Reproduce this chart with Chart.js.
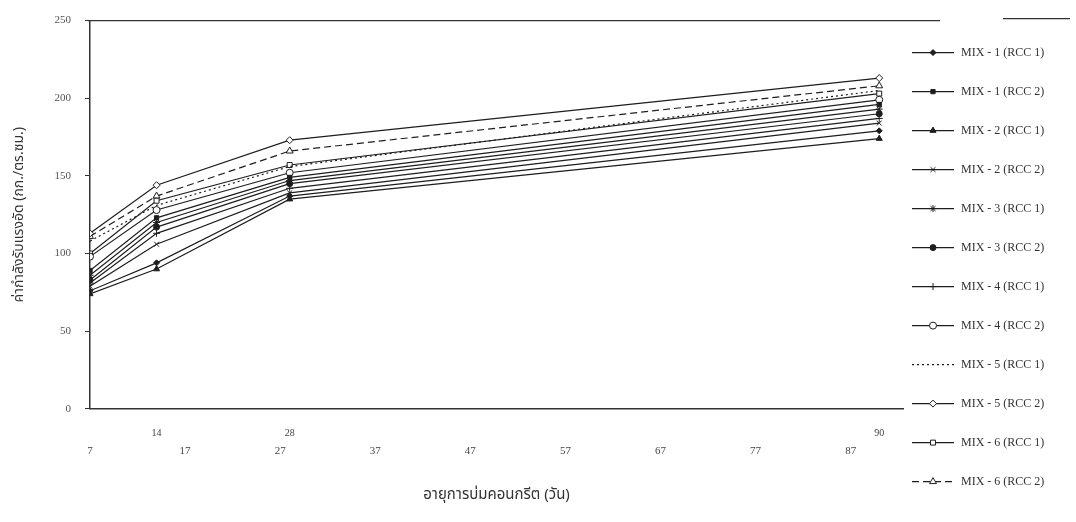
<!DOCTYPE html>
<html>
<head>
<meta charset="utf-8">
<script src="https://cdn.jsdelivr.net/npm/chart.js@4"></script>
<style>
  html, body { margin: 0; padding: 0; background: #fff; }
  #wrap { width: 1076px; height: 522px; }
</style>
</head>
<body>
<div id="wrap"><canvas id="strengthChart"></canvas></div>
<script>
// ages (days) and compressive strength per mix
var days = [7, 14, 28, 90];
var dayLabels = [14, 28, 90];
var xTicks = [7, 17, 27, 37, 47, 57, 67, 77, 87];
var yTicks = [0, 50, 100, 150, 200, 250];

var seriesNames = [
    'MIX - 1 (RCC 1)', 'MIX - 1 (RCC 2)', 'MIX - 2 (RCC 1)', 'MIX - 2 (RCC 2)',
    'MIX - 3 (RCC 1)', 'MIX - 3 (RCC 2)', 'MIX - 4 (RCC 1)', 'MIX - 4 (RCC 2)',
    'MIX - 5 (RCC 1)', 'MIX - 5 (RCC 2)', 'MIX - 6 (RCC 1)', 'MIX - 6 (RCC 2)'
];
var mix1Rcc1 = [76, 94, 137, 179];
var mix1Rcc2 = [89, 123, 149, 196];
var mix2Rcc1 = [74, 90, 135, 174];
var mix2Rcc2 = [79, 106, 139, 184];
var mix3Rcc1 = [86, 120, 147, 193];
var mix3Rcc2 = [83, 117, 145, 190];
var mix4Rcc1 = [81, 113, 142, 187];
var mix4Rcc2 = [98, 128, 152, 199];
var mix5Rcc1 = [108, 131, 156, 205];
var mix5Rcc2 = [113, 144, 173, 213];
var mix6Rcc1 = [100, 134, 157, 203];
var mix6Rcc2 = [111, 137, 166, 208];

var allValues = [mix1Rcc1, mix1Rcc2, mix2Rcc1, mix2Rcc2, mix3Rcc1, mix3Rcc2,
                 mix4Rcc1, mix4Rcc2, mix5Rcc1, mix5Rcc2, mix6Rcc1, mix6Rcc2];

var ink = '#1e1e1e';
// marker style per series: [pointStyle, radius, open?, dash]
var looks = [
    ['rectRot', 3, false, []],
    ['rect', 3, false, []],
    ['triangle', 3.5, false, []],
    ['crossRot', 3.5, false, []],
    ['star', 3.5, false, []],
    ['circle', 3, false, []],
    ['cross', 3.5, false, []],
    ['circle', 3.5, true, []],
    ['circle', 0, false, [2, 3]],
    ['rectRot', 3.5, true, []],
    ['rect', 3.5, true, []],
    ['triangle', 4, true, [7, 4]]
];

var datasets = seriesNames.map(function(name, i) {
    var look = looks[i];
    return {
        label: name,
        data: days.map(function(d, j) { return { x: d, y: allValues[i][j] }; }),
        borderColor: ink,
        backgroundColor: look[2] ? '#ffffff' : ink,
        borderWidth: 1.2,
        borderDash: look[3],
        pointStyle: look[0],
        pointRadius: look[1],
        pointBorderWidth: 1,
        pointBorderColor: ink,
        pointBackgroundColor: look[2] ? '#ffffff' : ink,
        tension: 0
    };
});

var thaiFont = "'Noto Sans Thai', 'Loma', 'Garuda', 'DejaVu Sans', sans-serif";
var tickFont = { family: "'Liberation Serif', serif", size: 11 };

// legend drawn at the right: line sample + marker + label
var sideLegend = {
    id: 'sideLegend',
    afterDraw: function(chart) {
        var ctx = chart.ctx;
        var area = chart.chartArea;
        ctx.save();
        // frame line across the top
        ctx.strokeStyle = '#333';
        ctx.lineWidth = 1.2;
        ctx.beginPath();
        ctx.moveTo(area.left - 2, area.top);
        ctx.lineTo(area.right + 37, area.top);
        ctx.moveTo(area.right + 100, area.top - 2);
        ctx.lineTo(area.right + 167, area.top - 2);
        ctx.stroke();

        chart.data.datasets.forEach(function(ds, i) {
            var y = area.top + 32 + i * 39;
            var x0 = area.right + 9, x1 = area.right + 51;
            ctx.strokeStyle = ds.borderColor;
            ctx.lineWidth = ds.borderWidth;
            ctx.setLineDash(ds.borderDash || []);
            ctx.beginPath();
            ctx.moveTo(x0, y);
            ctx.lineTo(x1, y);
            ctx.stroke();
            ctx.setLineDash([]);
            if (ds.pointRadius > 0) {
                ctx.fillStyle = ds.pointBackgroundColor;
                ctx.strokeStyle = ds.pointBorderColor;
                ctx.lineWidth = 1;
                Chart.helpers.drawPoint(ctx, {
                    pointStyle: ds.pointStyle, radius: ds.pointRadius,
                    borderWidth: 1, rotation: 0
                }, (x0 + x1) / 2, y);
            }
            ctx.fillStyle = '#333';
            ctx.font = "12px 'Liberation Serif', serif";
            ctx.textBaseline = 'middle';
            ctx.textAlign = 'left';
            ctx.fillText(ds.label, x1 + 7, y);
        });
        ctx.restore();
    }
};

var ctxStrength = document.getElementById('strengthChart').getContext('2d');
var strengthChart = new Chart(ctxStrength, {
    type: 'line',
    data: { datasets: datasets },
    options: {
        responsive: true,
        maintainAspectRatio: false,
        animation: false,
        layout: { padding: { top: 20, right: 173, bottom: 17, left: 0 } },
        plugins: {
            legend: { display: false },
            tooltip: { enabled: false }
        },
        scales: {
            xDays: {
                type: 'linear',
                position: 'bottom',
                weight: 0,
                min: 7,
                max: 92.5,
                afterBuildTicks: function(scale) {
                    scale.ticks = dayLabels.map(function(d) { return { value: d }; });
                },
                afterFit: function(scale) { scale.height = 32; },
                grid: { display: false, drawTicks: false },
                border: { display: true, color: '#333', width: 1.5 },
                ticks: { color: '#444', font: { family: "'Liberation Serif', serif", size: 10 }, padding: 19, maxRotation: 0 }
            },
            x: {
                type: 'linear',
                position: 'bottom',
                weight: 1,
                min: 7,
                max: 92.5,
                afterBuildTicks: function(scale) {
                    scale.ticks = xTicks.map(function(v) { return { value: v }; });
                },
                grid: { display: false, drawTicks: false },
                border: { display: false },
                ticks: { color: '#444', font: tickFont, padding: 4, maxRotation: 0 },
                title: {
                    display: true,
                    text: 'อายุการบ่มคอนกรีต (วัน)',
                    color: '#333',
                    font: { family: thaiFont, size: 15 },
                    padding: { top: 25, bottom: 0 }
                }
            },
            y: {
                type: 'linear',
                min: 0,
                max: 250,
                afterBuildTicks: function(scale) {
                    scale.ticks = yTicks.map(function(v) { return { value: v }; });
                },
                afterFit: function(scale) { scale.width = 90; },
                grid: { drawOnChartArea: false, drawTicks: true, tickLength: 5, color: '#333' },
                border: { display: true, color: '#333', width: 1.5 },
                ticks: { color: '#555', font: tickFont, padding: 14 },
                title: {
                    display: true,
                    text: 'ค่ากำลังรับแรงอัด (กก./ตร.ซม.)',
                    color: '#333',
                    font: { family: thaiFont, size: 14 },
                    padding: { top: 12, bottom: 0 }
                }
            }
        }
    },
    plugins: [sideLegend]
});
</script>
</body>
</html>
